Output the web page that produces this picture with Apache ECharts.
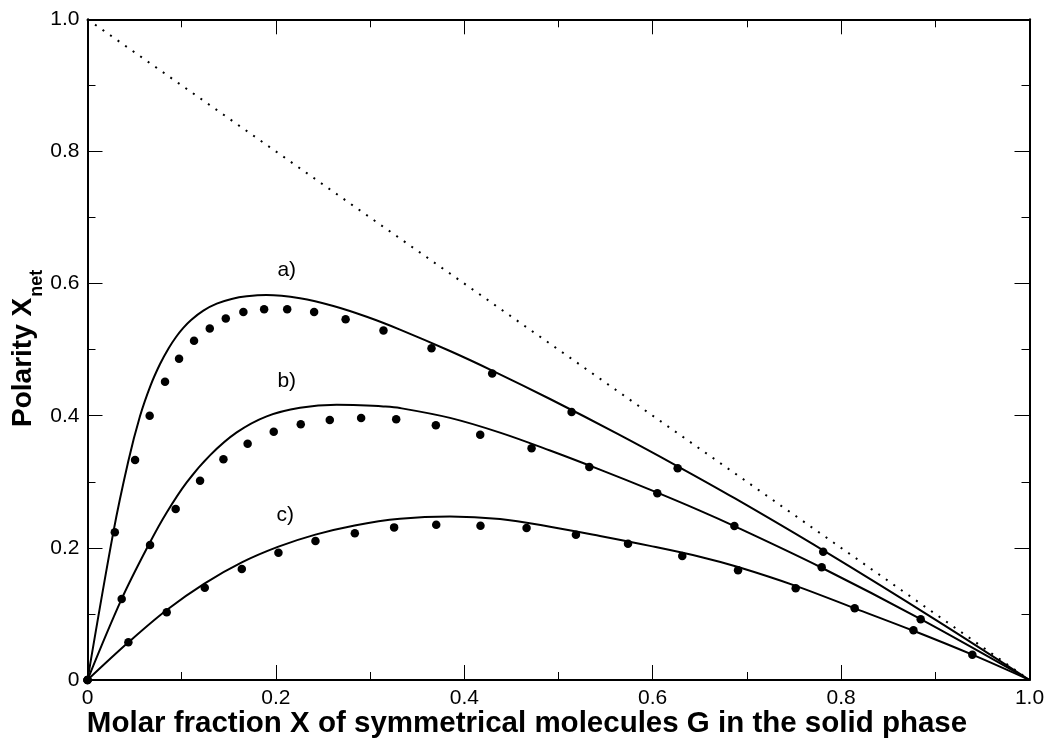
<!DOCTYPE html>
<html>
<head>
<meta charset="utf-8">
<script src="https://cdn.jsdelivr.net/npm/echarts@6/dist/echarts.min.js"></script>
<style>
  html, body { margin: 0; padding: 0; background: #ffffff; }
  #chart { width: 1048px; height: 738px; }
</style>
</head>
<body>
<div id="chart"></div>
<script>
// Axis tick labels
const xTickLabels = ['0', '0.2', '0.4', '0.6', '0.8', '1.0'];
const yTickLabels = ['0', '0.2', '0.4', '0.6', '0.8', '1.0'];

// Ideal limit: X_net = 1 - X
const limitX = [0, 1];
const limitY = [1, 0];

// Calculated curves
const curveAX = [0, 0.0274, 0.0433, 0.0557, 0.067, 0.077, 0.086, 0.094, 0.1017, 0.110, 0.123, 0.1372, 0.153, 0.169, 0.190, 0.2256, 0.261, 0.2964, 0.3317, 0.3848, 0.4296, 0.491, 0.5618, 0.6265, 0.6874, 0.781, 0.9, 1];
const curveAY = [0, 0.2235, 0.3311, 0.3992, 0.4460, 0.4783, 0.5019, 0.5192, 0.5330, 0.5450, 0.5591, 0.5696, 0.5767, 0.5807, 0.5827, 0.5777, 0.566, 0.5497, 0.5303, 0.4979, 0.4683, 0.4253, 0.3733, 0.3235, 0.2748, 0.1962, 0.0915, 0];

const curveBX = [0, 0.0363, 0.0664, 0.0841, 0.1053, 0.130, 0.1584, 0.1902, 0.2256, 0.2645, 0.2893, 0.314, 0.3317, 0.3848, 0.4379, 0.491, 0.544, 0.5971, 0.650, 0.6867, 0.7794, 0.8845, 1];
const curveBY = [0, 0.1227, 0.2085, 0.2536, 0.2992, 0.340, 0.3747, 0.399, 0.412, 0.4165, 0.4158, 0.4141, 0.4116, 0.3967, 0.3744, 0.3473, 0.3184, 0.2881, 0.2564, 0.2329, 0.1699, 0.0921, 0];

const curveCX = [0, 0.0434, 0.0841, 0.1245, 0.1638, 0.2027, 0.2419, 0.2836, 0.3317, 0.3848, 0.4379, 0.491, 0.544, 0.5971, 0.650, 0.6906, 0.7518, 0.8144, 0.8768, 0.9393, 1];
const curveCY = [0, 0.057, 0.106, 0.1463, 0.178, 0.2018, 0.220, 0.234, 0.244, 0.2475, 0.2435, 0.232, 0.218, 0.203, 0.1866, 0.171, 0.1425, 0.1085, 0.0745, 0.0383, 0];

// Simulated points
const dotsAX = [0, 0.029, 0.0505, 0.066, 0.0823, 0.0972, 0.1131, 0.1298, 0.1468, 0.1655, 0.1875, 0.212, 0.2406, 0.274, 0.3142, 0.3652, 0.4296, 0.5139, 0.6265, 0.781];
const dotsAY = [0, 0.2235, 0.333, 0.400, 0.4515, 0.4864, 0.5136, 0.532, 0.547, 0.557, 0.561, 0.561, 0.557, 0.546, 0.529, 0.502, 0.464, 0.4056, 0.3204, 0.194];

const dotsBX = [0, 0.0363, 0.0664, 0.0936, 0.1195, 0.1443, 0.170, 0.1977, 0.2264, 0.2572, 0.2905, 0.3277, 0.3698, 0.4169, 0.4714, 0.5327, 0.6049, 0.6867, 0.7794, 0.8845];
const dotsBY = [0, 0.1226, 0.2043, 0.2588, 0.3017, 0.334, 0.3577, 0.3759, 0.387, 0.3935, 0.3966, 0.3946, 0.3855, 0.3713, 0.3507, 0.3224, 0.2826, 0.233, 0.1705, 0.0918];

const dotsCX = [0, 0.0434, 0.0841, 0.1245, 0.1638, 0.2027, 0.242, 0.2838, 0.3255, 0.3702, 0.4172, 0.4661, 0.5185, 0.5738, 0.6314, 0.6906, 0.7518, 0.8144, 0.8768, 0.9393];
const dotsCY = [0, 0.057, 0.1024, 0.1398, 0.168, 0.1927, 0.2104, 0.222, 0.231, 0.235, 0.2336, 0.230, 0.220, 0.2063, 0.1877, 0.166, 0.139, 0.1085, 0.0752, 0.0383];

// Curve captions
const captionText = ['a)', 'b)', 'c)'];
const captionX = [0.2115, 0.2115, 0.210];
const captionY = [0.6195, 0.4515, 0.2497];

const FONT = '"Liberation Sans", Arial, Helvetica, sans-serif';
const zip = (xs, ys) => xs.map((x, i) => [x, ys[i]]);

const chart = echarts.init(document.getElementById('chart'), null, { renderer: 'canvas' });

function axisBase(showLabels, labels) {
  return {
    type: 'value',
    min: 0,
    max: 1,
    interval: 0.2,
    splitLine: { show: false },
    axisLine: { show: true, onZero: false, lineStyle: { color: '#000', width: 2 } },
    axisTick: { show: true, inside: true, length: 15, lineStyle: { color: '#000', width: 1 } },
    minorTick: { show: true, splitNumber: 2, length: 8, lineStyle: { color: '#000', width: 1 } },
    minorSplitLine: { show: false },
    axisLabel: {
      show: showLabels,
      margin: 8,
      color: '#000',
      fontFamily: FONT,
      fontSize: 21,
      formatter: v => labels[Math.round(v / 0.2)]
    }
  };
}

// Measure the y-axis title so the subscript can follow the main text
const meas = document.createElement('canvas').getContext('2d');
meas.font = 'bold 28px ' + FONT;
const mainTitleW = meas.measureText('Polarity X').width;

const option = {
  animation: false,
  backgroundColor: '#ffffff',
  grid: { left: 87.5, right: 18.5, top: 19.3, bottom: 58, containLabel: false, outerBoundsMode: 'none' },
  xAxis: [
    Object.assign(axisBase(true, xTickLabels), { position: 'bottom' }),
    Object.assign(axisBase(false, xTickLabels), { position: 'top' })
  ],
  yAxis: [
    Object.assign(axisBase(true, yTickLabels), { position: 'left' }),
    Object.assign(axisBase(false, yTickLabels), { position: 'right' })
  ],
  series: [
    {
      type: 'line',
      data: zip(limitX, limitY),
      showSymbol: false,
      symbol: 'none',
      silent: true,
      lineStyle: { color: '#000', width: 2, type: [2, 7.2] },
      z: 2
    },
    ...[[curveAX, curveAY], [curveBX, curveBY], [curveCX, curveCY]].map(([xs, ys]) => ({
      type: 'line',
      data: zip(xs, ys),
      smooth: 0.35,
      showSymbol: false,
      symbol: 'none',
      silent: true,
      lineStyle: { color: '#000', width: 2 },
      z: 3
    })),
    ...[[dotsAX, dotsAY], [dotsBX, dotsBY], [dotsCX, dotsCY]].map(([xs, ys]) => ({
      type: 'scatter',
      data: zip(xs, ys),
      symbol: 'circle',
      symbolSize: 8.5,
      silent: true,
      itemStyle: { color: '#000', opacity: 1 },
      z: 4
    })),
    {
      type: 'scatter',
      data: captionX.map((x, i) => ({ value: [x, captionY[i]], name: captionText[i] })),
      symbolSize: 0,
      silent: true,
      itemStyle: { color: 'rgba(0,0,0,0)' },
      label: {
        show: true,
        position: 'inside',
        formatter: p => p.name,
        color: '#000',
        opacity: 1,
        fontFamily: FONT,
        fontSize: 21
      },
      z: 5
    }
  ],
  graphic: [
    {
      type: 'text',
      x: 527,
      y: 724,
      style: {
        text: 'Molar fraction X of symmetrical molecules G in the solid phase',
        fill: '#000',
        font: 'bold 29.5px ' + FONT,
        textAlign: 'center',
        textVerticalAlign: 'middle'
      }
    },
    {
      type: 'group',
      x: 33.3,
      y: 427,
      rotation: Math.PI / 2,
      children: [
        {
          type: 'text',
          x: 0,
          y: -0.3465 * 28,
          style: {
            text: 'Polarity X',
            fill: '#000',
            font: 'bold 28px ' + FONT,
            textAlign: 'left',
            textVerticalAlign: 'middle'
          }
        },
        {
          type: 'text',
          x: mainTitleW + 1,
          y: 10 - 0.3465 * 18,
          style: {
            text: 'net',
            fill: '#000',
            font: 'bold 18px ' + FONT,
            textAlign: 'left',
            textVerticalAlign: 'middle'
          }
        }
      ]
    }
  ]
};

chart.setOption(option);
</script>
</body>
</html>
